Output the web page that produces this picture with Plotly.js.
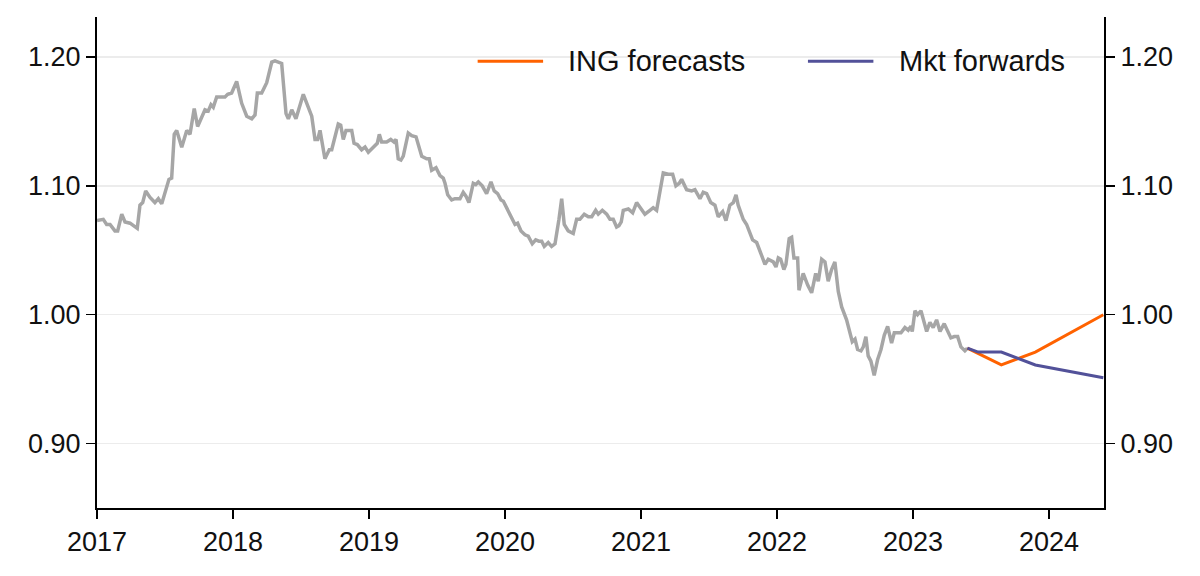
<!DOCTYPE html>
<html>
<head>
<meta charset="utf-8">
<script src="https://cdn.plot.ly/plotly-3.0.1.min.js"></script>
<style>
  html, body { margin: 0; padding: 0; background: #ffffff; }
  #myDiv { width: 1200px; height: 576px; }
</style>
</head>
<body>
<div id="myDiv"></div>
<script>
// spot history, decimal years
const spotYears = [
  2017.000, 2017.046, 2017.071, 2017.096, 2017.132, 2017.152, 2017.182, 2017.206, 2017.243, 2017.279,
  2017.296, 2017.316, 2017.336, 2017.358, 2017.390, 2017.426, 2017.451, 2017.476, 2017.505, 2017.529,
  2017.549, 2017.568, 2017.586, 2017.623, 2017.660, 2017.684, 2017.715, 2017.740, 2017.794, 2017.818,
  2017.838, 2017.855, 2017.880, 2017.941, 2017.961, 2017.990, 2018.027, 2018.064, 2018.101, 2018.138,
  2018.162, 2018.179, 2018.211, 2018.248, 2018.285, 2018.309, 2018.358, 2018.390, 2018.407, 2018.432,
  2018.463, 2018.517, 2018.579, 2018.603, 2018.623, 2018.640, 2018.676, 2018.708, 2018.726, 2018.774,
  2018.792, 2018.811, 2018.831, 2018.873, 2018.890, 2018.914, 2018.946, 2018.971, 2018.995, 2019.037,
  2019.061, 2019.076, 2019.093, 2019.130, 2019.160, 2019.184, 2019.199, 2019.215, 2019.235, 2019.252,
  2019.289, 2019.314, 2019.346, 2019.388, 2019.424, 2019.443, 2019.461, 2019.493, 2019.522, 2019.546,
  2019.559, 2019.579, 2019.608, 2019.632, 2019.669, 2019.693, 2019.713, 2019.735, 2019.767, 2019.785,
  2019.804, 2019.833, 2019.865, 2019.897, 2019.921, 2019.946, 2019.971, 2019.988, 2020.024, 2020.049,
  2020.074, 2020.093, 2020.118, 2020.147, 2020.171, 2020.201, 2020.226, 2020.250, 2020.270, 2020.289,
  2020.318, 2020.343, 2020.368, 2020.397, 2020.417, 2020.436, 2020.465, 2020.502, 2020.527, 2020.551,
  2020.583, 2020.613, 2020.638, 2020.667, 2020.686, 2020.716, 2020.748, 2020.772, 2020.796, 2020.821,
  2020.838, 2020.855, 2020.870, 2020.907, 2020.939, 2020.968, 2020.998, 2021.029, 2021.066, 2021.090,
  2021.115, 2021.145, 2021.164, 2021.201, 2021.233, 2021.257, 2021.282, 2021.299, 2021.336, 2021.373,
  2021.397, 2021.434, 2021.458, 2021.483, 2021.513, 2021.544, 2021.568, 2021.601, 2021.625, 2021.654,
  2021.679, 2021.699, 2021.715, 2021.752, 2021.777, 2021.821, 2021.851, 2021.880, 2021.912, 2021.936,
  2021.973, 2021.993, 2022.010, 2022.027, 2022.051, 2022.066, 2022.090, 2022.108, 2022.125, 2022.152,
  2022.162, 2022.193, 2022.226, 2022.255, 2022.285, 2022.304, 2022.329, 2022.353, 2022.377, 2022.402,
  2022.426, 2022.451, 2022.476, 2022.512, 2022.537, 2022.554, 2022.574, 2022.593, 2022.618, 2022.635,
  2022.654, 2022.671, 2022.691, 2022.715, 2022.740, 2022.765, 2022.789, 2022.814, 2022.843, 2022.863,
  2022.892, 2022.912, 2022.941, 2022.965, 2022.985, 2022.995, 2023.015, 2023.034, 2023.059, 2023.076,
  2023.101, 2023.125, 2023.149, 2023.174, 2023.199, 2023.230, 2023.255, 2023.279, 2023.304, 2023.329,
  2023.353, 2023.382, 2023.400
];
const spotValues = [
  1.073, 1.074, 1.070, 1.070, 1.065, 1.065, 1.078, 1.072, 1.071, 1.068,
  1.067, 1.085, 1.087, 1.096, 1.091, 1.087, 1.090, 1.086, 1.097, 1.105,
  1.106, 1.140, 1.143, 1.130, 1.143, 1.140, 1.160, 1.146, 1.159, 1.158,
  1.163, 1.161, 1.169, 1.169, 1.171, 1.172, 1.181, 1.164, 1.154, 1.152,
  1.155, 1.172, 1.172, 1.180, 1.196, 1.197, 1.195, 1.156, 1.152, 1.159,
  1.152, 1.171, 1.154, 1.136, 1.136, 1.143, 1.121, 1.128, 1.128, 1.148,
  1.147, 1.136, 1.143, 1.143, 1.133, 1.132, 1.128, 1.130, 1.126, 1.130,
  1.133, 1.140, 1.134, 1.134, 1.136, 1.134, 1.136, 1.121, 1.120, 1.123,
  1.141, 1.139, 1.138, 1.123, 1.121, 1.121, 1.112, 1.114, 1.108, 1.106,
  1.102, 1.093, 1.089, 1.090, 1.090, 1.095, 1.092, 1.087, 1.102, 1.101,
  1.103, 1.100, 1.094, 1.103, 1.096, 1.094, 1.089, 1.088, 1.080, 1.074,
  1.070, 1.071, 1.065, 1.062, 1.061, 1.055, 1.058, 1.057, 1.057, 1.053,
  1.056, 1.053, 1.055, 1.074, 1.090, 1.070, 1.065, 1.063, 1.074, 1.074,
  1.078, 1.076, 1.076, 1.081, 1.078, 1.081, 1.078, 1.074, 1.074, 1.068,
  1.069, 1.072, 1.081, 1.082, 1.079, 1.087, 1.083, 1.078, 1.081, 1.083,
  1.081, 1.099, 1.110, 1.109, 1.109, 1.100, 1.102, 1.105, 1.097, 1.096,
  1.097, 1.090, 1.095, 1.094, 1.087, 1.085, 1.076, 1.080, 1.073, 1.085,
  1.087, 1.093, 1.085, 1.074, 1.070, 1.058, 1.056, 1.048, 1.039, 1.043,
  1.041, 1.037, 1.044, 1.043, 1.035, 1.039, 1.059, 1.060, 1.044, 1.044,
  1.019, 1.032, 1.023, 1.017, 1.032, 1.026, 1.043, 1.041, 1.026, 1.035,
  1.041, 1.018, 1.006, 0.996, 0.986, 0.979, 0.981, 0.973, 0.972, 0.975,
  0.983, 0.968, 0.964, 0.953, 0.965, 0.973, 0.984, 0.991, 0.978, 0.986,
  0.986, 0.986, 0.990, 0.988, 0.991, 0.987, 1.003, 1.000, 1.003, 0.997,
  0.987, 0.994, 0.990, 0.996, 0.987, 0.993, 0.987, 0.982, 0.983, 0.983,
  0.975, 0.972, 0.974
];

// forecasts: spot, 3M, 6M, 12M
const ingYears = [2023.40, 2023.65, 2023.90, 2024.40];
const ingValues = [0.974, 0.961, 0.971, 1.000];

// market forwards: spot, 1M, 3M, 6M, 12M
const fwdYears = [2023.40, 2023.48, 2023.65, 2023.90, 2024.40];
const fwdValues = [0.974, 0.971, 0.971, 0.961, 0.951];

const yearTicks = [2017, 2018, 2019, 2020, 2021, 2022, 2023, 2024];
const rateTicks = [0.90, 1.00, 1.10, 1.20];
const seriesNames = ['ING forecasts', 'Mkt forwards'];
const seriesColors = ['#FF6200', '#525199'];

const fontFamily = 'Liberation Sans, Arial, sans-serif';

const lines = [
  {
    x: spotYears, y: spotValues,
    type: 'scatter', mode: 'lines', name: 'Spot',
    line: {color: '#A6A6A6', width: 3.5},
    showlegend: false
  },
  {
    x: ingYears, y: ingValues,
    type: 'scatter', mode: 'lines', name: seriesNames[0],
    line: {color: seriesColors[0], width: 3},
    yaxis: 'y2', showlegend: false
  },
  {
    x: fwdYears, y: fwdValues,
    type: 'scatter', mode: 'lines', name: seriesNames[1],
    line: {color: seriesColors[1], width: 3},
    yaxis: 'y2', showlegend: false
  }
];

const yCommon = {
  range: [0.85, 1.231],
  tickvals: rateTicks,
  tickformat: '.2f',
  ticks: 'outside',
  ticklen: 9,
  tickwidth: 1.5,
  tickcolor: '#000000',
  showline: true,
  linecolor: '#000000',
  linewidth: 2,
  zeroline: false,
  fixedrange: true,
  automargin: false,
  tickfont: {family: fontFamily, size: 27, color: '#111111'}
};

// hand-drawn legend in paper coords
const legendY = 0.91;
const shapes = [
  {type: 'line', xref: 'paper', yref: 'paper', x0: 0.378, x1: 0.443, y0: legendY, y1: legendY,
    line: {color: seriesColors[0], width: 3}},
  {type: 'line', xref: 'paper', yref: 'paper', x0: 0.706, x1: 0.771, y0: legendY, y1: legendY,
    line: {color: seriesColors[1], width: 3}}
];
const annotations = [
  {xref: 'paper', yref: 'paper', x: 0.466, y: legendY, text: seriesNames[0], showarrow: false,
    xanchor: 'left', yanchor: 'middle', font: {family: fontFamily, size: 29, color: '#111111'}},
  {xref: 'paper', yref: 'paper', x: 0.794, y: legendY, text: seriesNames[1], showarrow: false,
    xanchor: 'left', yanchor: 'middle', font: {family: fontFamily, size: 29, color: '#111111'}}
];

const layout = {
  width: 1200,
  height: 576,
  margin: {l: 97, r: 96, t: 17, b: 68, pad: 0},
  paper_bgcolor: '#ffffff',
  plot_bgcolor: '#ffffff',
  showlegend: false,
  hovermode: false,
  xaxis: {
    range: [2017, 2024.405],
    tickvals: yearTicks,
    ticktext: yearTicks.map(String),
    ticks: 'outside',
    ticklen: 9,
    tickwidth: 1.5,
    tickcolor: '#000000',
    showline: true,
    linecolor: '#000000',
    linewidth: 2,
    showgrid: false,
    zeroline: false,
    fixedrange: true,
    automargin: false,
    tickfont: {family: fontFamily, size: 27, color: '#111111'}
  },
  yaxis: Object.assign({}, yCommon, {
    side: 'left',
    showgrid: true,
    gridcolor: '#ECECEC',
    gridwidth: 1.5
  }),
  yaxis2: Object.assign({}, yCommon, {
    side: 'right',
    overlaying: 'y',
    showgrid: false
  }),
  shapes: shapes,
  annotations: annotations
};

Plotly.newPlot('myDiv', lines, layout, {displayModeBar: false, staticPlot: true});
</script>
</body>
</html>
